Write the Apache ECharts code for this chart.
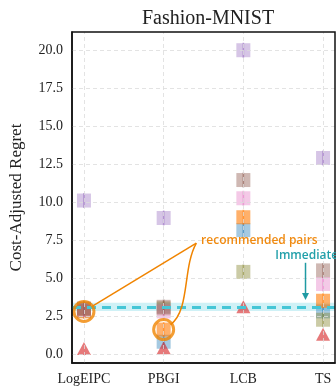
<!DOCTYPE html>
<html><head><meta charset="utf-8">
<script src="https://cdn.jsdelivr.net/npm/echarts@6/dist/echarts.min.js"></script>
<style>html,body{margin:0;padding:0;background:#fff}#c{width:336px;height:388px}</style>
</head><body><div id="c"></div>
<script>
const categories = ['LogEIPC', 'PBGI', 'LCB', 'TS'];
const purpleVals = [10.1, 8.95, 20.0, 12.9];
const brownVals  = [3.0, 3.1, 11.45, 5.5];
const pinkVals   = [2.9, 2.8, 10.25, 4.6];
const orangeVals = [2.8, 1.6, 9.0, 3.5];
const blueVals   = [2.85, 0.8, 8.15, 2.8];
const oliveVals  = [2.95, 3.0, 5.4, 2.25];
const redVals    = [0.35, 0.4, 3.1, 1.3];
const immediateValue = 3.1;
const immediateLow = 2.83;
const immediateHigh = 3.36;
const yTicks = [0, 2.5, 5, 7.5, 10, 12.5, 15, 17.5, 20];
const xTicks = [0, 1, 2, 3];

const serif = 'Liberation Serif, Times New Roman, serif';
const sans = 'Open Sans, DejaVu Sans, sans-serif';

function toPts(vals) { return vals.map((v, i) => [i, v]); }

function squareSeries(vals, color, op) {
  return [{
    type: 'scatter', data: toPts(vals), symbol: 'rect', symbolSize: 14,
    itemStyle: { color: color, opacity: op }, silent: true, z: 3
  }, {
    type: 'scatter', data: toPts(vals), symbol: 'rect', symbolSize: [1.6, 15],
    itemStyle: { color: color, opacity: 0.55 }, silent: true, z: 3
  }];
}

const gridLines = [];
yTicks.forEach(v => gridLines.push({ yAxis: v }));
xTicks.forEach(v => gridLines.push({ xAxis: v }));

const chart = echarts.init(document.getElementById('c'), null, { renderer: 'canvas' });

const series = [
  {
    type: 'scatter', data: [], silent: true, z: 1,
    markLine: {
      silent: true, symbol: 'none', label: { show: false },
      lineStyle: { color: '#dcdcdc', type: [4, 3], width: 0.8 },
      data: gridLines, animation: false
    }
  },
  {
    type: 'scatter', data: [], silent: true, z: 2,
    markArea: {
      silent: true, itemStyle: { color: 'rgba(64,200,220,0.25)' },
      data: [[{ yAxis: immediateLow }, { yAxis: immediateHigh }]]
    },
    markLine: {
      silent: true, symbol: 'none', label: { show: false },
      lineStyle: { color: '#45c6d6', type: [9, 6], width: 3 },
      data: [{ yAxis: immediateValue }]
    }
  },
  ...squareSeries(blueVals, '#1f77b4', 0.4),
  ...squareSeries(orangeVals, '#ff7f0e', 0.62),
  ...squareSeries(oliveVals, '#8c8c3a', 0.45),
  ...squareSeries(pinkVals, '#e377c2', 0.4),
  ...squareSeries(brownVals, '#8c564b', 0.42),
  ...squareSeries(purpleVals, '#9467bd', 0.38),
  {
    type: 'scatter', data: toPts(redVals), symbol: 'triangle', symbolSize: [14, 13],
    itemStyle: { color: '#d62728', opacity: 0.62 }, silent: true, z: 4
  },
  {
    type: 'scatter', data: [[0, orangeVals[0]], [1, orangeVals[1]]], symbol: 'circle', symbolSize: 20,
    itemStyle: { color: 'rgba(0,0,0,0)', borderColor: '#f08400', borderWidth: 3 }, silent: true, z: 6
  }
];

chart.setOption({
  animation: false,
  title: {
    text: 'Fashion-MNIST', left: 203, top: 4, textAlign: 'center',
    textStyle: { fontFamily: serif, fontSize: 20, fontWeight: 'normal', color: '#222' }
  },
  grid: { left: 70, top: 32, right: 1, bottom: 25, show: false },
  xAxis: {
    type: 'value', min: -0.15, max: 3.15,
    axisLine: { show: true, onZero: false, lineStyle: { color: '#111', width: 1.5 } },
    axisTick: { show: false },
    splitLine: { show: false },
    axisLabel: {
      customValues: xTicks, margin: 9,
      formatter: v => categories[Math.round(v)] || '',
      fontFamily: serif, fontSize: 14, color: '#222'
    }
  },
  yAxis: {
    type: 'value', min: -0.6, max: 21.2,
    name: 'Cost-Adjusted Regret', nameLocation: 'middle', nameGap: 47,
    nameTextStyle: { fontFamily: serif, fontSize: 17, color: '#222' },
    axisLine: { show: true, onZero: false, lineStyle: { color: '#111', width: 1.5 } },
    axisTick: { show: false },
    splitLine: { show: false },
    axisLabel: {
      customValues: yTicks, margin: 9,
      formatter: v => v.toFixed(1),
      fontFamily: serif, fontSize: 14, color: '#222'
    }
  },
  series: series
});

// annotations placed via the chart's own coordinate conversion
const P = (x, y) => chart.convertToPixel({ gridIndex: 0 }, [x, y]);
const c1 = P(0, orangeVals[0]);
const c2 = P(1, orangeVals[1]);
const anchor = P(1.41, 7.3);
const textPos = P(1.47, 7.45);
const immText = P(2.4, 6.48);
const arrTop = P(2.78, 6.0);
const arrBot = P(2.78, 3.55);
const gTop = P(-0.15, 21.2);
const gBot = P(3.15, -0.6);
const r = 10;

function edgePoint(c, from) {
  const dx = from[0] - c[0], dy = from[1] - c[1];
  const d = Math.sqrt(dx * dx + dy * dy);
  return [c[0] + dx / d * r, c[1] + dy / d * r];
}
const e1 = edgePoint(c1, anchor);
const e2 = [c2[0] + 7, c2[1] - 5];

chart.setOption({
  graphic: [
    { type: 'rect', shape: { x: gTop[0], y: gTop[1], width: gBot[0] - gTop[0], height: gBot[1] - gTop[1] },
      style: { fill: 'none', stroke: '#111', lineWidth: 1.5 }, z: 10, silent: true },
    { type: 'line', shape: { x1: anchor[0], y1: anchor[1], x2: e1[0], y2: e1[1] },
      style: { stroke: '#f08400', lineWidth: 1.5 }, z: 20 },
    { type: 'bezierCurve', shape: { x1: anchor[0], y1: anchor[1],
        cpx1: anchor[0] - 14, cpy1: anchor[1] + 25,
        cpx2: anchor[0] - 6, cpy2: e2[1] - 15,
        x2: e2[0], y2: e2[1] },
      style: { stroke: '#f08400', lineWidth: 1.5, fill: 'none' }, z: 20 },
    { type: 'text', x: textPos[0], y: textPos[1],
      style: { text: 'recommended pairs', fill: '#f08a10', font: '600 12px ' + sans, textVerticalAlign: 'middle' }, z: 20 },
    { type: 'text', x: immText[0], y: immText[1],
      style: { text: 'Immediate', fill: '#22a0aa', font: '600 12px ' + sans, textVerticalAlign: 'middle' }, z: 20 },
    { type: 'line', shape: { x1: arrTop[0], y1: arrTop[1], x2: arrBot[0], y2: arrBot[1] - 5 },
      style: { stroke: '#1f9aa3', lineWidth: 1.5 }, z: 20 },
    { type: 'polygon', shape: { points: [[arrBot[0] - 3.5, arrBot[1] - 7], [arrBot[0] + 3.5, arrBot[1] - 7], [arrBot[0], arrBot[1]]] },
      style: { fill: '#1f9aa3' }, z: 20 }
  ]
});
</script></body></html>
